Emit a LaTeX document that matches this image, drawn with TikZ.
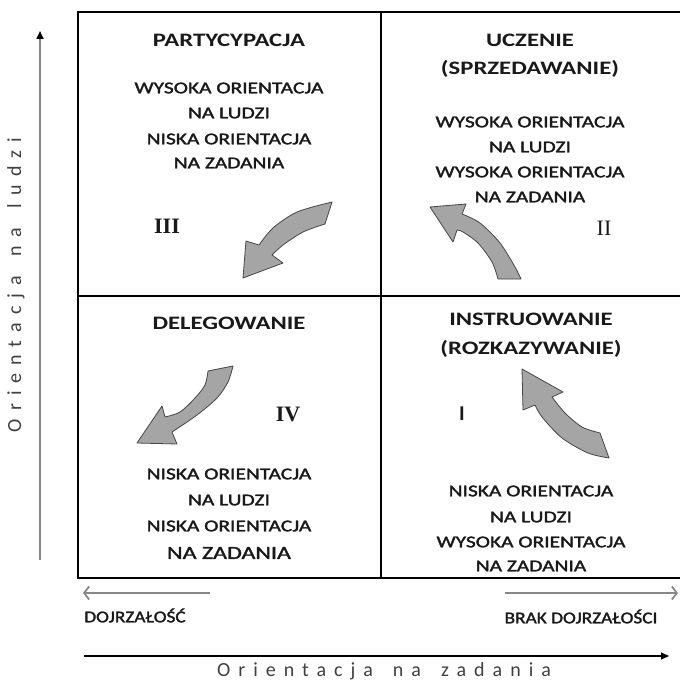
\documentclass[tikz,border=0pt]{standalone}
\usepackage{fontspec}
\setmainfont{Carlito}
\newfontfamily\serifnum{Liberation Serif}
\newfontfamily\bodyfont[FakeBold=1.6]{Carlito}
\newfontfamily\spacedfont[LetterSpace=40]{Carlito}
\newcommand{\wgap}{\hspace{20pt}}
\usetikzlibrary{arrows.meta}
\definecolor{arrowgray}{RGB}{165,165,165}
\definecolor{edgegray}{RGB}{70,70,70}
\definecolor{axisgray}{RGB}{135,135,135}
\definecolor{txt}{RGB}{25,25,25}
\begin{document}
\begin{tikzpicture}[x=1pt,y=-1pt,
  head/.style={font=\bfseries\fontsize{19}{19}\selectfont, text=txt, inner sep=0pt, text height=12.2pt, text depth=0pt, xscale=1.3},
  body/.style={font=\bodyfont\fontsize{16.5}{16.5}\selectfont, text=txt, inner sep=0pt, text height=10.6pt, text depth=0pt, xscale=1.3},
  roman/.style={font=\serifnum\bfseries\fontsize{22}{22}\selectfont, text=txt, inner sep=0pt, text height=14.6pt, text depth=0pt},
  small/.style={font=\bodyfont\fontsize{16.5}{16.5}\selectfont, text=txt, inner sep=0pt, text height=10.6pt, text depth=0pt, xscale=1.17},
  axislabel/.style={font=\spacedfont\fontsize{20}{20}\selectfont, text=black!75, inner sep=0pt},
  bigarrow/.style={fill=arrowgray, draw=edgegray, line width=0.8pt, line join=round},
  grid/.style={draw=black, line width=1.3pt}
]
\useasboundingbox (0,0) rectangle (679,684);
\fill[white] (0,0) rectangle (679,684);

% grid
\coordinate (tl) at (78,12);
\coordinate (tr) at (680,12);
\coordinate (bl) at (78,578);
\coordinate (br) at (680,578);
\coordinate (mt) at (381,12);
\coordinate (mb) at (381,578);
\coordinate (ml) at (78,296);
\coordinate (mr) at (680,296);
\draw[grid] (tr) -- (tl) -- (bl) -- (br);
\draw[grid] (mt) -- (mb);
\draw[grid] (ml) -- (mr);

% vertical axis
\coordinate (yb) at (40,560);
\coordinate (yt) at (40,31);
\draw[axisgray, line width=2pt, -{Triangle[length=8pt,width=7pt,color=black,fill=black]}] (yb) -- (yt);
\node[axislabel, rotate=90] (ylab) at (16,285) {Orientacja{}\wgap{}na{}\wgap{}ludzi};

% horizontal axis
\coordinate (xa) at (84,656);
\coordinate (xb) at (669,656);
\draw[black, line width=1.1pt, -{Triangle[length=8pt,width=7pt]}] (xa) -- (xb);
\node[axislabel] (xlab) at (384,671) {Orientacja{}\wgap{}na{}\wgap{}zadania};

% maturity arrows
\coordinate (la) at (210,593);
\coordinate (lb) at (83,593);
\coordinate (ra) at (505,593);
\coordinate (rb) at (678,593);
\draw[axisgray, line width=1.8pt, -{Straight Barb[length=5pt,width=13pt]}] (la) -- (lb);
\draw[axisgray, line width=1.8pt, -{Straight Barb[length=5pt,width=13pt]}] (ra) -- (rb);
\node[small] (dojr) at (135,617) {DOJRZAŁOŚĆ};
\node[small] (brak) at (581,618) {BRAK DOJRZAŁOŚCI};

% quadrant III (top-left)
\node[head] (h3) at (229,40) {PARTYCYPACJA};
\node[body] (b3a) at (229,88) {WYSOKA ORIENTACJA};
\node[body] (b3b) at (229,113) {NA LUDZI};
\node[body] (b3c) at (229,139) {NISKA ORIENTACJA};
\node[body] (b3d) at (229,163) {NA ZADANIA};
\node[roman] (r3) at (167,226) {III};

% quadrant II (top-right)
\node[head] (h2a) at (530,40) {UCZENIE};
\node[head] (h2b) at (530,68) {(SPRZEDAWANIE)};
\node[body] (b2a) at (530,122) {WYSOKA ORIENTACJA};
\node[body] (b2b) at (530,147) {NA LUDZI};
\node[body] (b2c) at (530,172) {WYSOKA ORIENTACJA};
\node[body] (b2d) at (530,197) {NA ZADANIA};
\node[roman, font=\serifnum\fontsize{22}{22}\selectfont] (r2) at (604,228) {II};

% quadrant IV (bottom-left)
\node[head] (h4) at (229,323) {DELEGOWANIE};
\node[body] (b4a) at (229,474) {NISKA ORIENTACJA};
\node[body] (b4b) at (229,500) {NA LUDZI};
\node[body] (b4c) at (229,526) {NISKA ORIENTACJA};
\node[body, font=\bodyfont\fontsize{18.5}{18.5}\selectfont, text height=11.9pt] (b4d) at (229,553) {NA ZADANIA};
\node[roman] (r4) at (288,414) {IV};

% quadrant I (bottom-right)
\node[head] (h1a) at (531,319) {INSTRUOWANIE};
\node[head] (h1b) at (531,348) {(ROZKAZYWANIE)};
\node[body] (b1a) at (531,491) {NISKA ORIENTACJA};
\node[body] (b1b) at (531,517) {NA LUDZI};
\node[body] (b1c) at (531,542) {WYSOKA ORIENTACJA};
\node[body] (b1d) at (531,566) {NA ZADANIA};
\node[font=\bfseries\fontsize{21}{21}\selectfont, text=txt, inner sep=0pt, text height=13.5pt, text depth=0pt] (r1) at (462,414) {I};

% curved arrows
\path[bigarrow] plot[smooth] coordinates {(332,202) (297,212) (273,228) (259,245)}
  -- (246,241) -- (243,278) -- (283,263) -- (272,255)
  -- plot[smooth] coordinates {(272,255) (283,245) (303,232) (325,224)} -- cycle;

\path[bigarrow] (430,207) -- (466,204) -- (462,214)
  -- plot[smooth] coordinates {(462,214) (480,223) (500,243) (515,267) (521,279)}
  -- (498,279)
  -- plot[smooth] coordinates {(498,279) (492,262) (478,243) (463,232) (457,230)}
  -- (453,242) -- cycle;

\path[bigarrow] (208,371) -- (233,366)
  -- plot[smooth] coordinates {(233,366) (228,382) (217,398) (197,415) (172,432)}
  -- (177,444) -- (137,443) -- (162,406) -- (165,417)
  -- plot[smooth] coordinates {(165,417) (180,412) (195,398) (205,385) (208,371)} -- cycle;

\path[bigarrow] (522,369) -- (563,392) -- (552,397)
  -- plot[smooth] coordinates {(552,397) (565,413) (582,427) (600,433)}
  -- (609,458)
  -- plot[smooth] coordinates {(609,458) (588,453) (562,438) (542,417) (535,405)}
  -- (523,410) -- cycle;
\end{tikzpicture}
\end{document}
